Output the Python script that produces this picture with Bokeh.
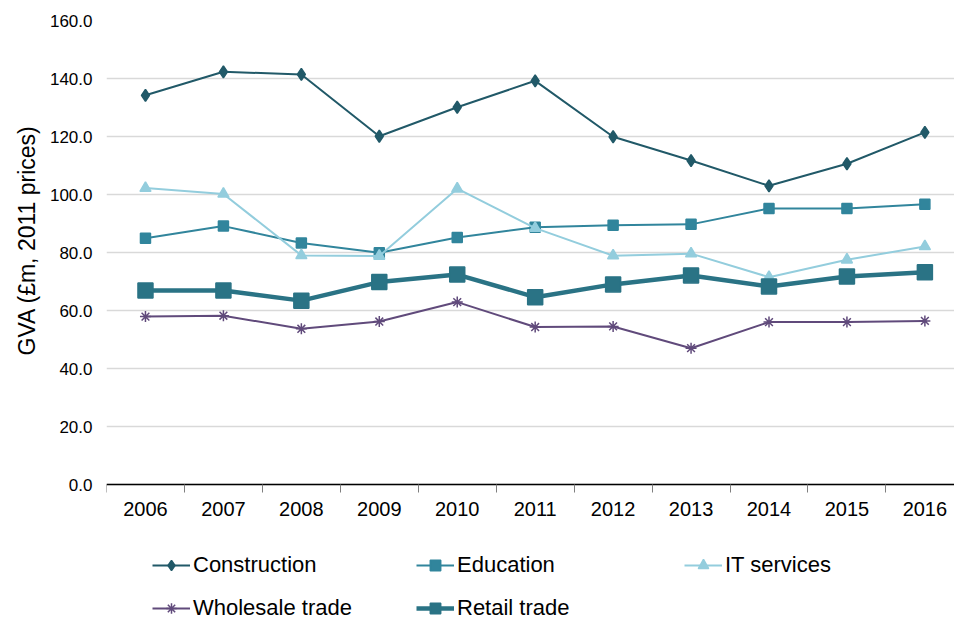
from bokeh.plotting import figure
from bokeh.models import FixedTicker, Legend, LegendItem, Range1d, NumeralTickFormatter, Title
from bokeh.embed import file_html
from bokeh.resources import INLINE

# GVA by sector, £m at 2011 prices
years = [2006, 2007, 2008, 2009, 2010, 2011, 2012, 2013, 2014, 2015, 2016]
construction = [134.2, 142.3, 141.4, 120.1, 130.1, 139.2, 119.9, 111.7, 103.0, 110.6, 121.4]
education = [84.9, 89.1, 83.3, 79.9, 85.2, 88.7, 89.4, 89.7, 95.2, 95.2, 96.6]
it_services = [102.2, 100.2, 79.0, 78.8, 102.0, 88.4, 78.9, 79.6, 71.5, 77.5, 82.1]
wholesale = [57.9, 58.2, 53.7, 56.2, 62.9, 54.3, 54.5, 47.0, 56.0, 56.0, 56.4]
retail = [66.9, 66.9, 63.4, 69.8, 72.4, 64.6, 69.0, 72.1, 68.3, 71.7, 73.2]
y_ticks = [0, 20, 40, 60, 80, 100, 120, 140, 160]

FONT = "Liberation Sans"

# The frame runs to the bottom of the page so the legend can sit inside it;
# the x axis is pinned at zero and the area below zero holds labels and legend.
p = figure(width=954, height=621, output_backend="svg", toolbar_location=None,
           x_range=Range1d(2005.5, 2016.38), y_range=Range1d(-47.24, 160),
           min_border_left=106, min_border_right=0, min_border_top=20,
           min_border_bottom=0)
p.outline_line_color = None
p.background_fill_color = "white"
p.border_fill_color = "white"

# x axis: labels centred on years, tick marks between categories
p.xaxis.fixed_location = 0
p.xaxis.ticker = FixedTicker(ticks=years, minor_ticks=[y - 0.5 for y in years] + [2016.5])
p.xaxis.major_tick_out = 0
p.xaxis.major_tick_in = 0
p.xaxis.minor_tick_out = 8
p.xaxis.minor_tick_in = 0
p.xaxis.minor_tick_line_color = "#7f7f7f"
p.xaxis.minor_tick_line_width = 1
p.xaxis.axis_line_color = "black"
p.xaxis.axis_line_width = 1.5
p.xaxis.major_label_text_font = FONT
p.xaxis.major_label_text_font_size = "20px"
p.xaxis.major_label_text_color = "black"
p.xaxis.major_label_standoff = 9
p.xgrid.grid_line_color = None

# y axis
p.yaxis.ticker = FixedTicker(ticks=y_ticks)
p.yaxis.formatter = NumeralTickFormatter(format="0.0")
p.yaxis.axis_line_color = None
p.yaxis.major_tick_line_color = None
p.yaxis.minor_tick_line_color = None
p.yaxis.major_tick_out = 0
p.yaxis.major_tick_in = 0
p.yaxis.major_label_text_font = FONT
p.yaxis.major_label_text_font_size = "17px"
p.yaxis.major_label_text_color = "black"
p.yaxis.major_label_standoff = 14
p.ygrid.grid_line_color = "#d9d9d9"
p.ygrid.grid_line_width = 1.5

# y axis title, placed beside the 0-160 value span (offset from frame bottom)
p.add_layout(Title(text="GVA (£m, 2011 prices)", align="left", offset=266,
                   standoff=14, text_font=FONT, text_font_size="23px",
                   text_font_style="normal", text_color="black"), "left")

series = [
    ("Construction", construction, "#215968", "diamond", 12, 2),
    ("Education", education, "#31859c", "square", 10, 2),
    ("IT services", it_services, "#93cddd", "triangle", 11, 2),
    ("Wholesale trade", wholesale, "#604a7b", "asterisk", 11, 2),
    ("Retail trade", retail, "#2a7385", "square", 15, 4.5),
]

items = []
for name, vals, color, marker, size, lw in series:
    ln = p.line(years, vals, line_color=color, line_width=lw)
    sc = p.scatter(years, vals, marker=marker, size=size, fill_color=color,
                   line_color=color, line_width=1.5)
    items.append(LegendItem(label=name, renderers=[ln, sc]))

# legend entries laid out on a two-row grid below the axis
positions = [(46, 43), (310, 43), (578, 43), (46, 0), (310, 0)]
for item, loc in zip(items, positions):
    lg = Legend(items=[item], location=loc, padding=0, margin=0,
                glyph_width=38, glyph_height=26, label_height=26,
                label_standoff=3, spacing=0,
                label_text_font=FONT, label_text_font_size="22px",
                label_text_color="black", background_fill_alpha=0,
                border_line_color=None)
    p.add_layout(lg, "center")

open("out.html", "w").write(file_html(p, INLINE))
